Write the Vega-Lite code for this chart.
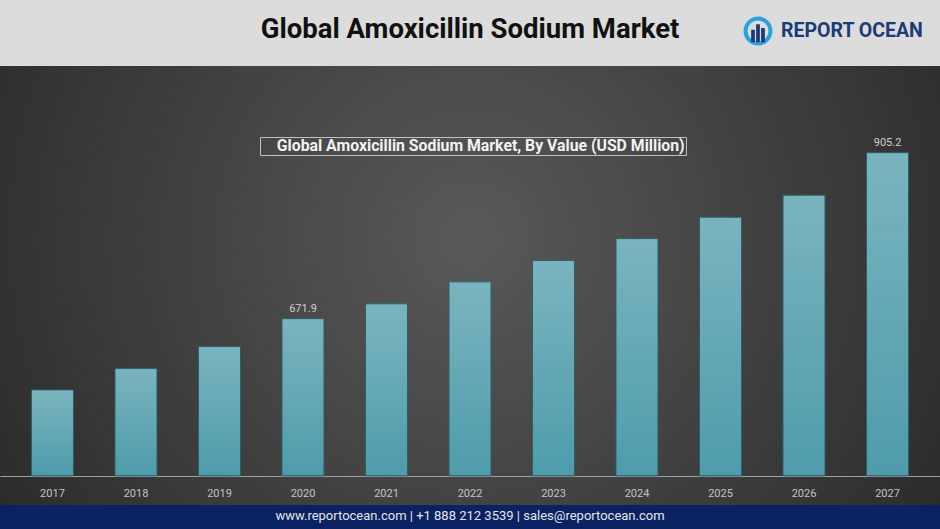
{
  "$schema": "https://vega.github.io/schema/vega-lite/v6.json",
  "padding": 0,
  "background": "#2f2f2f",
  "spacing": 0,
  "config": {"view": {"stroke": null}, "concat": {"spacing": 0}},
  "vconcat": [
    {
      "width": 940,
      "height": 66,
      "view": {"fill": "#dcdcdc", "stroke": null},
      "data": {"values": [{"k": 1}]},
      "layer": [
        {"mark": {"type": "text", "text": "Global Amoxicillin Sodium Market", "align": "center", "baseline": "middle", "dy": -3, "font": "Roboto", "fontSize": 27.5, "fontWeight": "bold", "color": "#111111"}, "encoding": {}},
        {"mark": {"type": "point", "shape": "circle", "size": 620, "filled": false, "stroke": "#2aa3dd", "strokeWidth": 4, "opacity": 1, "xOffset": 288, "yOffset": -2}, "encoding": {}},
        {"mark": {"type": "point", "shape": "M-0.55,0.9V-0.1H-0.25V0.9ZM-0.15,0.9V-0.55H0.15V0.9ZM0.25,0.9V-0.25H0.55V0.9Z", "size": 620, "filled": true, "fill": "#1b3a78", "strokeWidth": 0, "opacity": 1, "xOffset": 288, "yOffset": -2}, "encoding": {}},
        {"mark": {"type": "text", "text": "REPORT OCEAN", "align": "left", "baseline": "middle", "dx": 311, "dy": -2, "font": "Roboto", "fontSize": 19.5, "fontWeight": "bold", "color": "#1b3a78"}, "encoding": {}}
      ]
    },
    {
      "width": 940,
      "height": 439,
      "view": {
        "stroke": null,
        "fill": {"gradient": "radial", "x1": 0.5, "y1": 0.45, "r1": 0, "x2": 0.5, "y2": 0.45, "r2": 0.75, "stops": [{"offset": 0, "color": "#595959"}, {"offset": 1, "color": "#1e1e1e"}]}
      },
      "data": {
        "values": [
          {"year": "2017", "value": 571.8, "series": "Global Amoxicillin Sodium Market, By Value (USD Million)"},
          {"year": "2018", "value": 601.8, "series": "Global Amoxicillin Sodium Market, By Value (USD Million)"},
          {"year": "2019", "value": 632.7, "series": "Global Amoxicillin Sodium Market, By Value (USD Million)"},
          {"year": "2020", "value": 671.9, "series": "Global Amoxicillin Sodium Market, By Value (USD Million)"},
          {"year": "2021", "value": 692.7, "series": "Global Amoxicillin Sodium Market, By Value (USD Million)"},
          {"year": "2022", "value": 723.6, "series": "Global Amoxicillin Sodium Market, By Value (USD Million)"},
          {"year": "2023", "value": 753.6, "series": "Global Amoxicillin Sodium Market, By Value (USD Million)"},
          {"year": "2024", "value": 784.4, "series": "Global Amoxicillin Sodium Market, By Value (USD Million)"},
          {"year": "2025", "value": 814.5, "series": "Global Amoxicillin Sodium Market, By Value (USD Million)"},
          {"year": "2026", "value": 845.4, "series": "Global Amoxicillin Sodium Market, By Value (USD Million)"},
          {"year": "2027", "value": 905.2, "series": "Global Amoxicillin Sodium Market, By Value (USD Million)"}
        ]
      },
      "encoding": {
        "x": {
          "field": "year", "type": "ordinal",
          "scale": {"paddingInner": 0.497, "paddingOuter": 0.377},
          "axis": {"title": null, "orient": "bottom", "offset": -29, "labelAngle": 0, "ticks": false, "grid": false, "domainColor": "#a0a0a0", "domainWidth": 1, "labelPadding": 11, "labelColor": "#c4c4c4", "labelFont": "Roboto", "labelFontSize": 11}
        },
        "y": {"field": "value", "type": "quantitative", "scale": {"domain": [410, 1027], "zero": false, "nice": false}, "axis": null}
      },
      "layer": [
        {
          "mark": {
            "type": "bar",
            "fill": {"gradient": "linear", "x1": 0, "y1": 0, "x2": 0, "y2": 1, "stops": [{"offset": 0, "color": "#7ab4be"}, {"offset": 1, "color": "#4e9cab"}]},
            "stroke": "#2e5f69",
            "strokeWidth": 1
          },
          "encoding": {"y2": {"datum": 451}}
        },
        {
          "transform": [{"filter": "datum.year == '2020' || datum.year == '2027'"}],
          "mark": {"type": "text", "baseline": "bottom", "dy": -5, "font": "Roboto", "fontSize": 11},
          "encoding": {
            "text": {"field": "value", "type": "quantitative", "format": ".1f"},
            "color": {
              "field": "series", "type": "nominal",
              "scale": {"range": ["#cfcfcf"]},
              "legend": {"title": null, "orient": "none", "legendX": 260, "legendY": 137, "symbolSize": 0, "symbolOpacity": 0, "symbolStrokeWidth": 0, "labelOffset": 0, "labelLimit": 0, "labelExpr": "'\u00a0\u00a0\u00a0' + datum.label + '\u00a0\u00a0\u00a0\u00a0'", "labelFont": "Roboto", "labelFontWeight": "bold", "labelFontSize": 15.8, "labelColor": "#f2f2f2", "strokeColor": "#c0c0c0", "padding": 1}
            }
          }
        }
      ]
    },
    {
      "width": 940,
      "height": 24,
      "view": {"fill": "#0b2262", "stroke": null},
      "data": {"values": [{"k": 1}]},
      "mark": {"type": "text", "text": "www.reportocean.com | +1 888 212 3539 | sales@reportocean.com", "align": "center", "baseline": "middle", "dy": -1, "font": "Roboto", "fontSize": 13, "color": "#e6e6e6"},
      "encoding": {}
    }
  ]
}
